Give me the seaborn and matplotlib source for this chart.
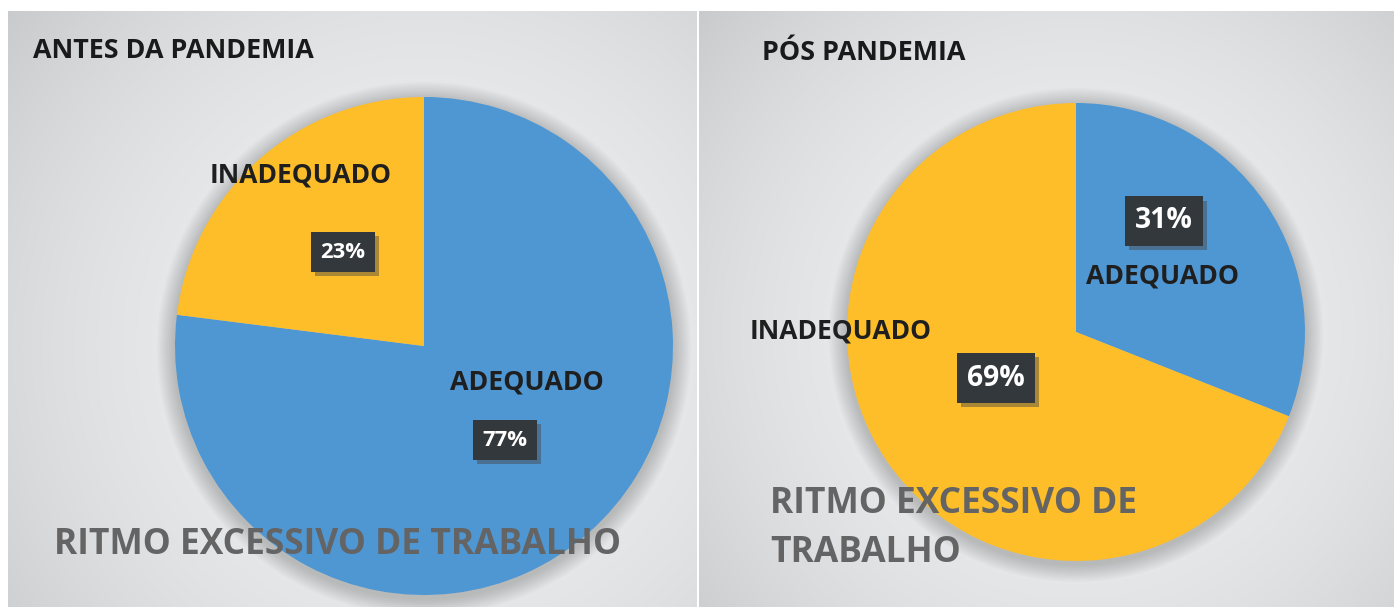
import numpy as np
import matplotlib
matplotlib.use("Agg")
import matplotlib.pyplot as plt
import seaborn as sns
from matplotlib.patches import Circle, Rectangle
import matplotlib.patheffects as pe

# data
categories = ["ADEQUADO", "INADEQUADO"]
antes_values = [77, 23]
pos_values = [31, 69]
panel_titles = ["ANTES DA PANDEMIA", "PÓS PANDEMIA"]
footer_left = "RITMO EXCESSIVO DE TRABALHO"
footer_right = ["RITMO EXCESSIVO DE", "TRABALHO"]

sns.set_style("white")
plt.rcParams['font.family'] = ['Open Sans', 'DejaVu Sans']
colors = sns.color_palette(["#4f97d3", "#fdbe2a"])

W, H = 1394, 607
fig = plt.figure(figsize=(13.94, 6.07), dpi=100)
ax = fig.add_axes([0, 0, 1, 1])
renderer = fig.canvas.get_renderer()


def fit(t, width):
    # scale font so that the text takes the wanted pixel width
    w = t.get_window_extent(renderer).width
    t.set_fontsize(t.get_fontsize() * width / w)
    return t


def background(ax, x0, x1, y0, y1, cx, cy):
    # radial gray gradient like the office chart area
    xs = np.linspace(x0, x1, 300)
    ys = np.linspace(y0, y1, 300)
    X, Y = np.meshgrid(xs, ys)
    d = np.sqrt((X - cx) ** 2 + (Y - cy) ** 2)
    d = d / d.max()
    val = 0.93 - 0.14 * d ** 2.2
    img = np.dstack([val, val + 0.004, val + 0.01])
    ax.imshow(np.clip(img, 0, 1), extent=[x0, x1, y0, y1], origin="lower",
              aspect="auto", zorder=0, interpolation="bilinear")


def pie_panel(ax, values, cx, cy, r):
    # soft shadow around the pie
    for k in range(12):
        ax.add_patch(Circle((cx, cy - 3), r + 18 - k * 1.5, color="black",
                            alpha=0.016, lw=0, zorder=1))
    ax.pie(values, colors=colors, startangle=90, counterclock=False,
           center=(cx, cy), radius=r, frame=True,
           wedgeprops=dict(linewidth=0, zorder=2))


def pct_box(ax, x, y, v, width, pad):
    t = ax.text(x, y, f"{v}%", ha="center", va="center", fontsize=17,
                fontweight="bold", color="white", zorder=6,
                bbox=dict(boxstyle=f"square,pad={pad}", fc="#33383d", ec="none",
                          path_effects=[pe.SimplePatchShadow(offset=(3, -3),
                                                             shadow_rgbFace="#444444",
                                                             alpha=0.45),
                                        pe.Normal()]))
    fit(t, width)


def label(ax, x, y, s, width):
    t = ax.text(x, y, s, ha="center", va="center", fontsize=17,
                fontweight="bold", color="#1f1f1f", zorder=6)
    fit(t, width)


# panels
ax.add_patch(Rectangle((0, 0), W, H, color="white", zorder=-1))
background(ax, 8, 697, 0, 596, 424, 261)
background(ax, 699, 1394, 0, 596, 1076, 275)

pie_panel(ax, antes_values, 424, H - 346, 249)
pie_panel(ax, pos_values, 1076, H - 332, 229)

ax.set_xlim(0, W)
ax.set_ylim(0, H)
ax.set_aspect("auto")
ax.axis("off")

# titles
t = ax.text(33, H - 51, panel_titles[0], ha="left", va="center", fontsize=16,
            fontweight="bold", color="#1a1a1a")
fit(t, 282)
t = ax.text(762, H - 53, panel_titles[1], ha="left", va="center", fontsize=16,
            fontweight="bold", color="#1a1a1a")
fit(t, 204)

# left labels
label(ax, 301, H - 175, categories[1], 182)
pct_box(ax, 343, H - 252, antes_values[1], 45, 0.42)
label(ax, 527, H - 383, categories[0], 154)
pct_box(ax, 505, H - 440, antes_values[0], 45, 0.42)

# right labels
pct_box(ax, 1164, H - 221, pos_values[0], 58, 0.36)
label(ax, 1163, H - 276, categories[0], 153)
label(ax, 841, H - 331, categories[1], 182)
pct_box(ax, 996, H - 378, pos_values[1], 58, 0.36)

# footer text
t = ax.text(54, H - 545, footer_left, ha="left", va="center", fontsize=29,
            fontweight="bold", color="#646464", zorder=7)
fit(t, 568)
t = ax.text(770, H - 504, footer_right[0], ha="left", va="center", fontsize=29,
            fontweight="bold", color="#646464", zorder=7)
fs = fit(t, 368).get_fontsize()
ax.text(770, H - 553, footer_right[1], ha="left", va="center", fontsize=fs,
        fontweight="bold", color="#646464", zorder=7)

fig.savefig("out.png", dpi=100)
